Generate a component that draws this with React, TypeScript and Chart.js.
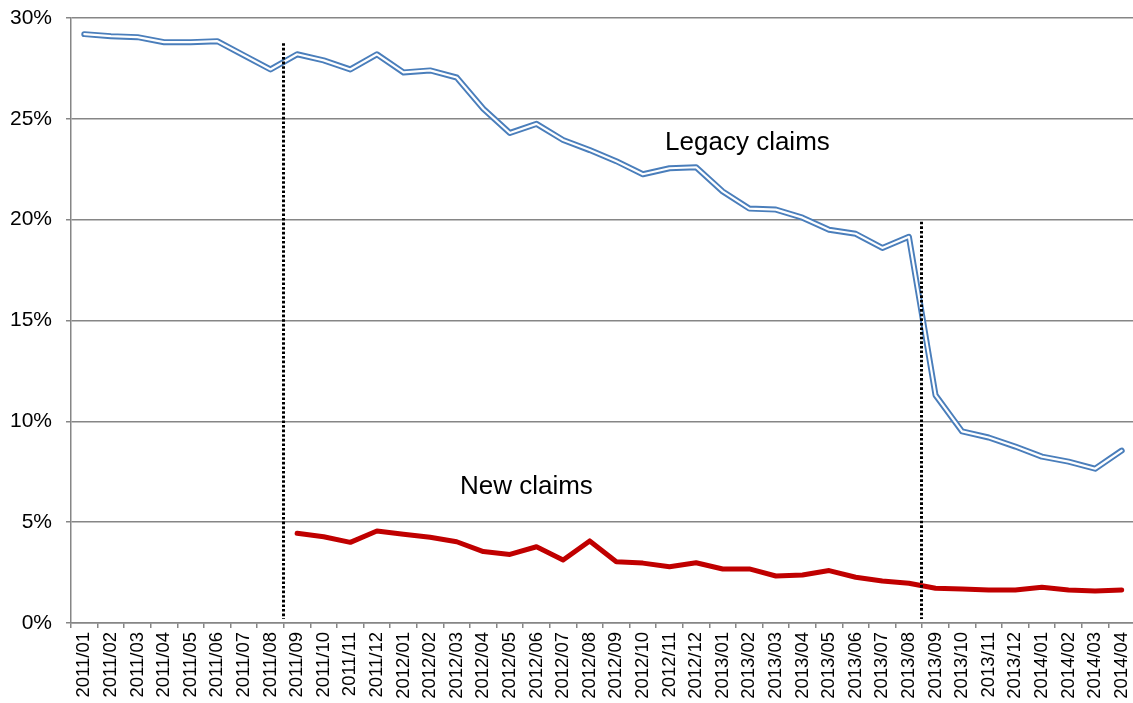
import React, { useEffect, useRef } from 'react';
import { Chart, registerables } from 'chart.js';

Chart.register(...registerables);

const categories = [
  '2011/01', '2011/02', '2011/03', '2011/04', '2011/05', '2011/06', '2011/07', '2011/08', '2011/09', '2011/10', '2011/11', '2011/12',
  '2012/01', '2012/02', '2012/03', '2012/04', '2012/05', '2012/06', '2012/07', '2012/08', '2012/09', '2012/10', '2012/11', '2012/12',
  '2013/01', '2013/02', '2013/03', '2013/04', '2013/05', '2013/06', '2013/07', '2013/08', '2013/09', '2013/10', '2013/11', '2013/12',
  '2014/01', '2014/02', '2014/03', '2014/04',
];

const legacyClaims = [
  29.2, 29.1, 29.05, 28.8, 28.8, 28.85, 28.15, 27.45, 28.2, 27.9, 27.45, 28.2,
  27.3, 27.4, 27.05, 25.5, 24.3, 24.75, 23.95, 23.45, 22.9, 22.25, 22.55, 22.6,
  21.4, 20.55, 20.5, 20.1, 19.5, 19.3, 18.6, 19.15, 11.3, 9.5, 9.2, 8.75,
  8.25, 8.0, 7.65, 8.55,
];

const newClaims = [
  null, null, null, null, null, null, null, null, 4.45, 4.28, 4.0, 4.56,
  4.4, 4.25, 4.03, 3.54, 3.4, 3.78, 3.12, 4.07, 3.04, 2.97, 2.79, 2.99,
  2.68, 2.68, 2.33, 2.38, 2.6, 2.27, 2.08, 1.97, 1.72, 1.69, 1.64, 1.64,
  1.77, 1.64, 1.59, 1.64,
];

const yMin = 0;
const yMax = 30;
const yStep = 5;

// Dotted dividers: placed after these categories, rising to these values
const dividerAfter = ['2011/08', '2013/08'];
const dividerTop = [28.75, 19.9];

// Text labels on the chart (category index, value at baseline)
const annotationText = ['Legacy claims', 'New claims'];
const annotationAt = [24.93, 16.62];
const annotationValue = [23.45, 6.38];

const FONT = "'Liberation Sans', Arial, sans-serif";
const GRID = '#868686';
const BLUE = '#4a7ebb';
const RED = '#c00000';

const overlayPlugin = {
  id: 'overlay',
  afterDatasetsDraw(chart: any) {
    const x = chart.scales.x;
    const y = chart.scales.y;
    const ctx = chart.ctx;
    ctx.save();
    ctx.strokeStyle = '#000';
    ctx.lineWidth = 3;
    ctx.setLineDash([2.6, 2]);
    dividerAfter.forEach((c, i) => {
      const idx = categories.indexOf(c);
      const px = Math.round((x.getPixelForValue(idx) + x.getPixelForValue(idx + 1)) / 2) - 0.5;
      ctx.beginPath();
      ctx.moveTo(px, y.getPixelForValue(dividerTop[i]));
      ctx.lineTo(px, y.getPixelForValue(0) - 4);
      ctx.stroke();
    });
    ctx.setLineDash([]);
    ctx.fillStyle = '#000';
    ctx.font = `26px ${FONT}`;
    ctx.textAlign = 'center';
    ctx.textBaseline = 'alphabetic';
    annotationText.forEach((t, i) => {
      ctx.fillText(t, x.getPixelForValue(annotationAt[i]), y.getPixelForValue(annotationValue[i]));
    });
    ctx.restore();
  },
};

export default function App() {
  const ref = useRef<HTMLCanvasElement>(null);

  useEffect(() => {
    if (!ref.current) return;
    const chart = new Chart(ref.current, {
      type: 'line',
      data: {
        labels: categories,
        datasets: [
          {
            label: 'Legacy claims (inner)',
            data: legacyClaims,
            borderColor: '#ffffff',
            borderWidth: 2.2,
            pointRadius: 0,
            borderCapStyle: 'round',
            borderJoinStyle: 'round',
            tension: 0,
            order: 0,
          },
          {
            label: 'Legacy claims',
            data: legacyClaims,
            borderColor: BLUE,
            borderWidth: 6,
            pointRadius: 0,
            borderCapStyle: 'round',
            borderJoinStyle: 'round',
            tension: 0,
            order: 1,
          },
          {
            label: 'New claims',
            data: newClaims,
            borderColor: RED,
            borderWidth: 5,
            pointRadius: 0,
            borderCapStyle: 'round',
            borderJoinStyle: 'round',
            tension: 0,
            spanGaps: false,
            order: 2,
          },
        ],
      },
      options: {
        responsive: false,
        animation: false,
        devicePixelRatio: 1,
        layout: { padding: { top: 18, right: 1, left: 0, bottom: 0 } },
        plugins: {
          legend: { display: false },
          tooltip: { enabled: false },
        },
        scales: {
          x: {
            type: 'category',
            offset: true,
            grid: {
              display: true,
              drawOnChartArea: false,
              drawTicks: true,
              tickLength: 5,
              color: GRID,
              lineWidth: 1.5,
              offset: true,
            },
            border: { display: true, color: GRID, width: 1.5 },
            ticks: {
              autoSkip: false,
              minRotation: 90,
              maxRotation: 90,
              padding: 4,
              color: '#000',
              font: { family: FONT, size: 18.5 },
            },
            afterFit(scale: any) {
              scale.height = 80;
              scale.paddingLeft = 0;
              scale.paddingRight = 0;
            },
          },
          y: {
            min: yMin,
            max: yMax,
            grid: {
              color: GRID,
              lineWidth: 1.5,
              tickLength: 5,
              drawTicks: true,
            },
            border: { display: true, color: GRID, width: 1.5 },
            ticks: {
              stepSize: yStep,
              padding: 14,
              color: '#000',
              font: { family: FONT, size: 21 },
              callback: (v: any) => `${v}%`,
            },
            afterFit(scale: any) {
              scale.width = 71;
              scale.paddingTop = 0;
              scale.paddingBottom = 0;
            },
          },
        },
      },
      plugins: [overlayPlugin],
    });
    return () => chart.destroy();
  }, []);

  return (
    <div
      style={{
        position: 'absolute',
        left: 0,
        top: 0,
        width: 1133,
        height: 703,
        overflow: 'hidden',
        background: '#fff',
      }}
    >
      <canvas ref={ref} width={1136} height={703} style={{ display: 'block' }} />
    </div>
  );
}
